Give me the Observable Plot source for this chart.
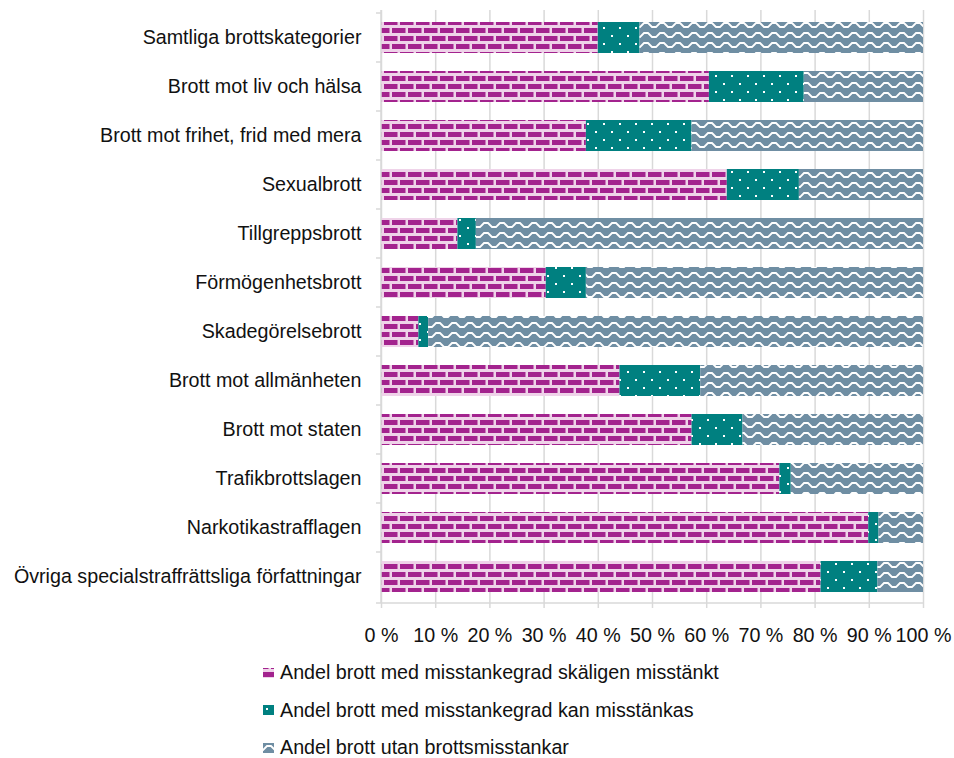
<!DOCTYPE html>
<html>
<head>
<meta charset="utf-8">
<script src="https://cdn.jsdelivr.net/npm/d3@7"></script>
<script src="https://cdn.jsdelivr.net/npm/@observablehq/plot@0.6"></script>
<style>
  html, body { margin: 0; padding: 0; background: #fff; }
  body { font-family: "Liberation Sans", Arial, Helvetica, sans-serif; width: 954px; }
  #chart svg { display: block; }
  #legend { padding-top: 4px; padding-left: 263px; }
  #legend .row { display: flex; align-items: center; height: 37.5px; font-size: 19.7px; color: #111; }
  #legend .row svg { display: block; margin-right: 6px; }
</style>
</head>
<body>
<div id="chart"></div>
<div id="legend"></div>
<script>
// ---- data ----
const categories = [
  "Samtliga brottskategorier",
  "Brott mot liv och hälsa",
  "Brott mot frihet, frid med mera",
  "Sexualbrott",
  "Tillgreppsbrott",
  "Förmögenhetsbrott",
  "Skadegörelsebrott",
  "Brott mot allmänheten",
  "Brott mot staten",
  "Trafikbrottslagen",
  "Narkotikastrafflagen",
  "Övriga specialstraffrättsliga författningar"
];
const series = [
  "Andel brott med misstankegrad skäligen misstänkt",
  "Andel brott med misstankegrad kan misstänkas",
  "Andel brott utan brottsmisstankar"
];
const skaligenMisstankt = [40.0, 60.5, 37.8, 63.8, 14.1, 30.4, 6.9, 44.0, 57.3, 73.5, 89.9, 81.1];
const kanMisstankas     = [7.7, 17.5, 19.5, 13.3, 3.4, 7.4, 1.8, 14.9, 9.4, 2.1, 1.9, 10.5];
const utanMisstankar    = [52.3, 22.0, 42.7, 22.9, 82.5, 62.2, 91.3, 41.1, 33.3, 24.4, 8.2, 8.4];
const xTicks = [0, 10, 20, 30, 40, 50, 60, 70, 80, 90, 100];

const patternIds = ["p-brick", "p-dots", "p-zigzag"];
const seriesValues = [skaligenMisstankt, kanMisstankas, utanMisstankar];

const table = categories.flatMap((c, i) =>
  series.map((s, j) => ({category: c, series: s, value: seriesValues[j][i]}))
);

const fontFamily = '"Liberation Sans", Arial, Helvetica, sans-serif';
const gridColor = "#d9d9d9";

// band-edge ticks and axis lines, computed from the scales
function axisLines(index, scales, values, dims) {
  const {x, y} = scales;
  const step = y.step();
  const bw = y.bandwidth();
  const x0 = x(0);
  const top = dims.marginTop;
  const bottom = dims.height - dims.marginBottom;
  const g = d3.create("svg:g").attr("stroke", gridColor).attr("stroke-width", 1.5);
  g.append("line").attr("x1", x0).attr("x2", x0).attr("y1", top).attr("y2", bottom);
  g.append("line").attr("x1", x0 - 5).attr("x2", x(100)).attr("y1", bottom).attr("y2", bottom);
  const edges = categories.map(c => y(c) - (step - bw) / 2);
  for (const e of edges) {
    g.append("line").attr("x1", x0 - 5).attr("x2", x0).attr("y1", e).attr("y2", e);
  }
  return g.node();
}

const chart = Plot.plot({
  width: 954,
  height: 650,
  marginLeft: 381,
  marginRight: 31,
  marginTop: 10,
  marginBottom: 47,
  style: {fontFamily, fontSize: "19.7px", color: "#111", background: "#fff", overflow: "visible"},
  x: {domain: [0, 100], label: null},
  y: {domain: categories, paddingInner: 0.37, paddingOuter: 0.185, label: null},
  color: {domain: series, range: patternIds.map(id => `url(#${id})`)},
  marks: [
    Plot.gridX(xTicks, {stroke: gridColor, strokeOpacity: 1, strokeWidth: 1.5}),
    Plot.barX(table, Plot.stackX({x: "value", y: "category", fill: "series"})),
    axisLines,
    Plot.axisX({ticks: xTicks, tickFormat: d => `${d} %`, tickSize: 5, tickPadding: 19,
                stroke: gridColor, strokeWidth: 1.5, fill: "#111", label: null}),
    Plot.axisY({tickSize: 0, tickPadding: 20, fill: "#111", label: null})
  ]
});

const defs = `
<defs>
  <pattern id="p-brick" patternUnits="userSpaceOnUse" width="16" height="16">
    <rect width="16" height="16" fill="#efd3e9"/>
    <rect x="0" y="4" width="13.5" height="5" fill="#a3238e"/>
    <rect x="8" y="12" width="13.5" height="5" fill="#a3238e"/>
    <rect x="-8" y="12" width="13.5" height="5" fill="#a3238e"/>
    <rect x="8" y="-4" width="13.5" height="5" fill="#a3238e"/>
    <rect x="-8" y="-4" width="13.5" height="5" fill="#a3238e"/>
  </pattern>
  <pattern id="p-dots" patternUnits="userSpaceOnUse" width="16" height="16">
    <rect width="16" height="16" fill="#008080"/>
    <rect x="3" y="3" width="2" height="2" fill="#fff"/>
    <rect x="11" y="11" width="2" height="2" fill="#fff"/>
  </pattern>
  <pattern id="p-zigzag" patternUnits="userSpaceOnUse" width="16" height="10">
    <rect width="16" height="10" fill="#6f8ea3"/>
    <path d="M-3,7 L0,7 L4,3 L8,3 L12,7 L16,7 L20,3" fill="none" stroke="#fff" stroke-width="1.8" stroke-linejoin="miter"/>
  </pattern>
</defs>`;
chart.insertAdjacentHTML("afterbegin", defs);
document.getElementById("chart").appendChild(chart);

// legend
const legend = d3.select("#legend");
series.forEach((s, i) => {
  const row = legend.append("div").attr("class", "row");
  row.append("svg").attr("width", 11).attr("height", 10)
    .append("rect").attr("width", 11).attr("height", 10).attr("fill", `url(#${patternIds[i]})`);
  row.append("span").text(s);
});
</script>
</body>
</html>
